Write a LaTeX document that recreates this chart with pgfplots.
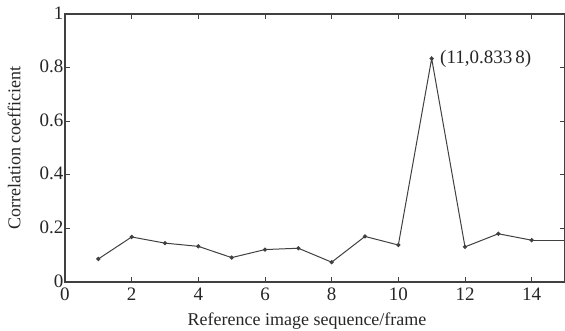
\documentclass[border=0pt]{standalone}
\usepackage{fontspec}
\setmainfont{Liberation Serif}
\usepackage{pgfplots}
\pgfplotsset{compat=1.18}
\begin{document}
\begin{tikzpicture}
\useasboundingbox (-65pt,-49pt) rectangle (500pt,282pt);
\begin{axis}[
  scale only axis, width=500pt, height=268pt,
  xmin=0, xmax=15, ymin=0, ymax=1,
  xtick={0,2,4,6,8,10,12,14},
  ytick={0,0.2,0.4,0.6,0.8,1},
  yticklabels={0,0.2,0.4,0.6,0.8,1},
  tick align=inside, major tick length=5pt,
  tick style={line width=1pt, black!75},
  axis line style={line width=1.3pt, black!75},
  /pgf/number format/assume math mode=true,
  ticklabel style={font=\fontsize{19}{22}\selectfont, inner sep=1.5pt, text=black!85},
  xticklabel style={yshift=-4pt},
  yticklabel style={yshift=1pt},
  label style={font=\fontsize{18}{21}\selectfont, text=black!85},
  xlabel={Reference image sequence/frame},
  ylabel={Correlation coefficient},
  xlabel style={yshift=-7pt, xshift=-8pt},
  ylabel style={yshift=14pt},
]
\addplot[black!75, line width=1pt, mark=*, mark size=1.6pt] coordinates {
  (1,0.086) (2,0.168) (3,0.145) (4,0.133) (5,0.091) (6,0.121) (7,0.126)
  (8,0.074) (9,0.170) (10,0.138) (11,0.8338) (12,0.131) (13,0.180) (14,0.156)
};
\addplot[black!75, line width=1pt] coordinates {(14,0.156) (15,0.156)};
\node[anchor=west, font=\fontsize{19}{22}\selectfont, text=black!85] at (axis cs:11.15,0.8338) {(11,0.833\,8)};
\end{axis}
\end{tikzpicture}
\end{document}
